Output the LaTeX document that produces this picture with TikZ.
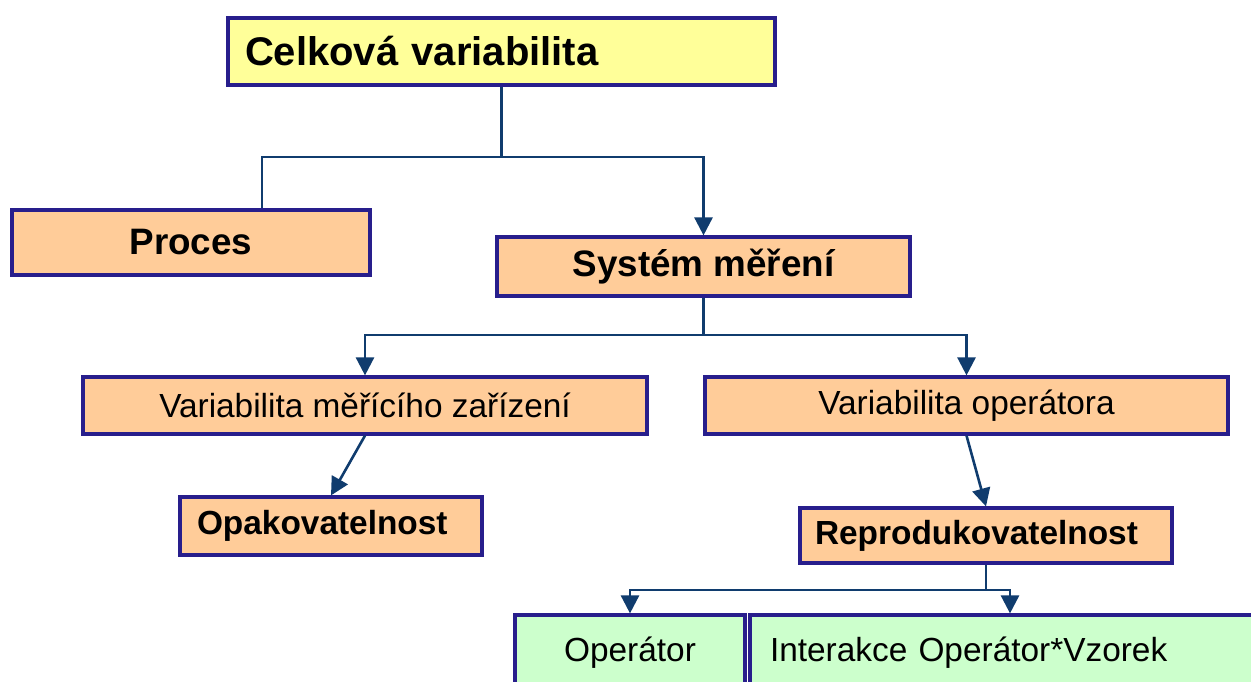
\documentclass[tikz,border=0pt]{standalone}
\usepackage{fontspec}
\setmainfont{Liberation Sans}
\usepackage{tikz}
\usetikzlibrary{arrows.meta}

\definecolor{boxline}{RGB}{40,30,140}
\definecolor{linkline}{RGB}{16,60,110}
\definecolor{boxyellow}{HTML}{FFFF99}
\definecolor{boxorange}{HTML}{FFCC99}
\definecolor{boxgreen}{HTML}{CCFFCC}

\tikzset{
  box/.style={draw=boxline, line width=1.6pt, inner sep=0pt, align=center},
  leftbox/.style={box, align=left},
  link/.style={draw=linkline, line width=1.3pt},
  arrow/.style={link, -{Triangle[length=9pt,width=9pt]}},
  bigbold/.style={font=\fontsize{20}{24}\selectfont\bfseries},
  midbold/.style={font=\fontsize{18.4}{22}\selectfont\bfseries},
  smallbold/.style={font=\fontsize{16.7}{20}\selectfont\bfseries},
  plain/.style={font=\fontsize{16.7}{20}\selectfont},
}

\begin{document}
\begin{tikzpicture}[x=0.5pt, y=-0.5pt]
  \useasboundingbox (0,0) rectangle (1251,681);

  % top level
  \node[leftbox, bigbold, fill=boxyellow, text width=256.5pt, inner xsep=8.5pt,
        minimum height=33.5pt] (total) at (501.5,51.5) {Celková variabilita};
  \node[box, midbold, fill=boxorange, minimum width=179pt, minimum height=32.5pt]
        (proces) at (191,242.5) {Proces};
  \node[box, midbold, fill=boxorange, minimum width=206.5pt, minimum height=29.5pt]
        (system) at (703.5,266.5) {Systém měření};

  % second level
  \node[box, plain, fill=boxorange, minimum width=282pt, minimum height=28.5pt]
        (zarizeni) at (365,405.5) {Variabilita měřícího zařízení};
  \node[box, plain, fill=boxorange, minimum width=261.5pt, minimum height=28.5pt]
        (operatora) at (966.5,405.5) {Variabilita operátora};
  \node[leftbox, smallbold, fill=boxorange, text width=134pt, inner xsep=8.5pt,
        minimum height=29pt] (opak) at (331,526) {Opakovatelnost};
  \node[leftbox, smallbold, fill=boxorange, text width=171pt, inner xsep=7.5pt,
        minimum height=27.5pt] (repro) at (986,535.5) {Reprodukovatelnost};

  % bottom level
  \node[box, plain, fill=boxgreen, minimum width=115pt, minimum height=37.5pt]
        (oper) at (630,652.5) {Operátor};
  \node[leftbox, plain, fill=boxgreen, text width=240pt, inner xsep=10pt,
        minimum height=37.5pt] (interakce) at (1010,652.5) {Interakce Operátor*Vzorek};

  % connectors
  \coordinate (j1) at (501.5,157);
  \coordinate (j2) at (703.5,335);
  \coordinate (j3) at (986,590);

  \draw[link] (total.south) -- (j1);
  \draw[link] (j1) -| ([xshift=35.5pt]proces.north);
  \draw[arrow] (j1) -| (system.north);

  \draw[link] (system.south) -- (j2);
  \draw[arrow] (j2) -| (zarizeni.north);
  \draw[arrow] (j2) -| (operatora.north);

  \draw[arrow] (zarizeni.south) -- (opak.north);
  \draw[arrow] (operatora.south) -- (repro.north);

  \draw[link] (repro.south) -- (j3);
  \draw[arrow] (j3) -| (oper.north);
  \draw[arrow] (j3) -| (interakce.north);
\end{tikzpicture}
\end{document}
